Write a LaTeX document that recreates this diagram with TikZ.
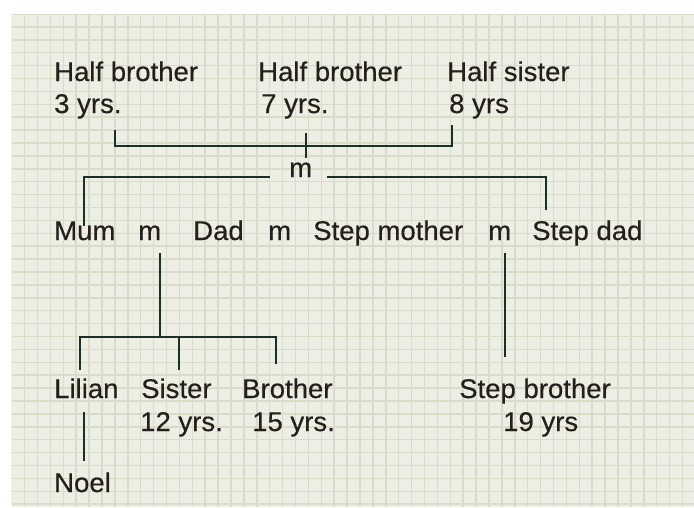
\documentclass[tikz,border=0pt]{standalone}
\usepackage{fontspec}
\setmainfont{Liberation Sans}[FakeStretch=1.02,FakeBold=0.4]
\definecolor{paper}{RGB}{238,239,228}
\definecolor{gridc}{RGB}{216,220,200}
\definecolor{ink}{RGB}{36,31,27}
\definecolor{linec}{RGB}{28,48,42}
\begin{document}
\begin{tikzpicture}[x=1pt,y=-1pt,
  lbl/.style={anchor=base west, inner sep=0pt, text=ink, font=\fontsize{27}{32}\selectfont},
  conn/.style={draw=linec, line width=2pt}]
\useasboundingbox (0,0) rectangle (694,507);
\fill[white] (0,0) rectangle (694,507);
\fill[paper] (11.5,14) rectangle (694,507);
\begin{scope}
\clip (11.5,14) rectangle (694,507);
\foreach \i in {0,...,53} \draw[gridc, line width=1.5pt] ({11.7+12.9*\i},14) -- ++(0,493);
\foreach \j in {0,...,38} \draw[gridc, line width=1.5pt] (11.5,{14+12.9*\j}) -- ++(683,0);
\end{scope}

% text
\node[lbl] (hbA) at (54,81) {Half brother};
\node[lbl] (hbAage) at (54,113) {3 yrs.};
\node[lbl] (hbB) at (258,81) {Half brother};
\node[lbl] (hbBage) at (261,113) {7 yrs.};
\node[lbl] (hs) at (447,81) {Half sister};
\node[lbl] (hsage) at (449,113) {8 yrs};
\node[lbl] (mTop) at (289,177) {m};
\node[lbl] (mum) at (54,240) {Mum};
\node[lbl] (m1) at (138,240) {m};
\node[lbl] (dad) at (193,240) {Dad};
\node[lbl] (m2) at (268,240) {m};
\node[lbl] (smum) at (313,240) {Step mother};
\node[lbl] (m3) at (488,240) {m};
\node[lbl] (sdad) at (532,240) {Step dad};
\node[lbl] (lilian) at (54,398) {Lilian};
\node[lbl] (sister) at (141,398) {Sister};
\node[lbl] (sisage) at (140,431) {12 yrs.};
\node[lbl] (brother) at (242,398) {Brother};
\node[lbl] (broage) at (252,431) {15 yrs.};
\node[lbl] (sbro) at (459,398) {Step brother};
\node[lbl] (sbroage) at (503,431) {19 yrs};
\node[lbl] (noel) at (54,492) {Noel};

% junction coordinates
\coordinate (bL) at (115,130);
\coordinate (bLc) at (115,146);
\coordinate (bRc) at (452,146);
\coordinate (bR) at (452,125);
\coordinate (bMt) at (306,133);
\coordinate (bMb) at (306,158);
\coordinate (tLa) at (270,177);
\coordinate (tLc) at (84,177);
\coordinate (tLe) at (84,226);
\coordinate (tRa) at (327,177);
\coordinate (tRc) at (546,177);
\coordinate (tRe) at (546,210);
\coordinate (cT) at (160,253);
\coordinate (cJ) at (160,337);
\coordinate (cLc) at (80,337);
\coordinate (cLe) at (80,370);
\coordinate (cRc) at (276,337);
\coordinate (cRe) at (276,364);
\coordinate (cMc) at (179,337);
\coordinate (cMe) at (179,370);
\coordinate (nT) at (84,412);
\coordinate (nB) at (84,461);
\coordinate (sT) at (505,253);
\coordinate (sB) at (505,357);

% connectors
\draw[conn] (bL) -- (bLc) -- (bRc) -- (bR);
\draw[conn] (bMt) -- (bMb);
\draw[conn] (tLa) -- (tLc) -- (tLe);
\draw[conn] (tRa) -- (tRc) -- (tRe);
\draw[conn] (cT) -- (cJ);
\draw[conn] (cLe) -- (cLc) -- (cRc) -- (cRe);
\draw[conn] (cMc) -- (cMe);
\draw[conn] (nT) -- (nB);
\draw[conn] (sT) -- (sB);
\end{tikzpicture}
\end{document}
